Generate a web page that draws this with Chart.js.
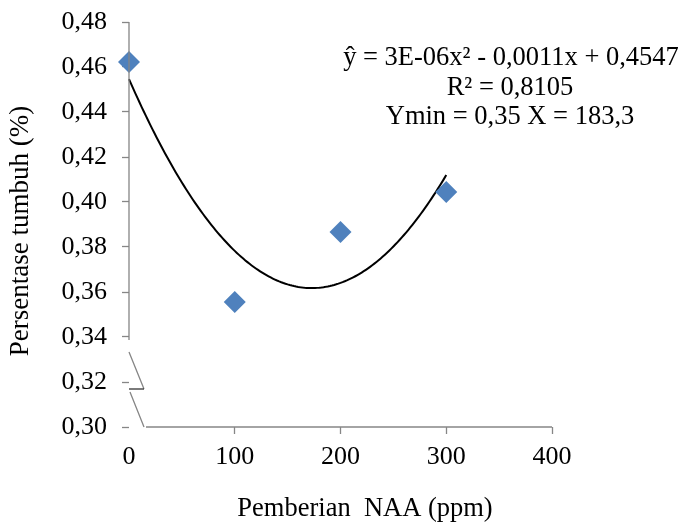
<!DOCTYPE html>
<html>
<head>
<meta charset="utf-8">
<script src="https://cdn.jsdelivr.net/npm/chart.js@4/dist/chart.umd.min.js"></script>
<style>
  html, body { margin: 0; padding: 0; background: #fff; }
  #wrap { width: 684px; height: 522px; }
</style>
</head>
<body>
<div id="wrap"><canvas id="c" width="684" height="522"></canvas></div>
<script>
// NAA dose (ppm) and observed growth percentage
const doses = [0, 100, 200, 300];
const growth = [0.4622, 0.3556, 0.3867, 0.4044];

// Axis tick values
const yTicks = [0.30, 0.32, 0.34, 0.36, 0.38, 0.40, 0.42, 0.44, 0.46, 0.48];
const xTicks = [0, 100, 200, 300, 400];

// Trendline annotation text
const eqLines = [
  'ŷ = 3E-06x² - 0,0011x + 0,4547',
  'R² = 0,8105',
  'Ymin = 0,35 X = 183,3'
];
const xTitle = 'Pemberian  NAA (ppm)';
const yTitle = 'Persentase tumbuh (%)';

// Least-squares quadratic fit of growth against dose
function quadFit(xs, ys) {
  const n = xs.length;
  let s = [0, 0, 0, 0, 0], t = [0, 0, 0];
  for (let i = 0; i < n; i++) {
    let p = 1;
    for (let k = 0; k <= 4; k++) { s[k] += p; if (k <= 2) t[k] += p * ys[i]; p *= xs[i]; }
  }
  const M = [[s[0], s[1], s[2], t[0]], [s[1], s[2], s[3], t[1]], [s[2], s[3], s[4], t[2]]];
  for (let c = 0; c < 3; c++) {
    for (let r = c + 1; r < 3; r++) {
      const f = M[r][c] / M[c][c];
      for (let k = c; k < 4; k++) M[r][k] -= f * M[c][k];
    }
  }
  const coef = [0, 0, 0];
  for (let r = 2; r >= 0; r--) {
    let v = M[r][3];
    for (let k = r + 1; k < 3; k++) v -= M[r][k] * coef[k];
    coef[r] = v / M[r][r];
  }
  return coef; // a + b x + c x^2
}
const fit = quadFit(doses, growth);
const trend = [];
for (let x = doses[0]; x <= doses[doses.length - 1]; x += 2) {
  trend.push({ x: x, y: fit[0] + fit[1] * x + fit[2] * x * x });
}

const AXIS = '#868686';
const FONT = '"Liberation Serif", "Times New Roman", serif';
const fmt = v => v.toFixed(2).replace('.', ',');

// Axis lines with a break symbol between 0,30 and 0,34
const brokenAxes = {
  id: 'brokenAxes',
  afterDatasetsDraw(chart) {
    const { ctx, scales: { x, y } } = chart;
    const x0 = x.getPixelForValue(0);
    const yTop = y.getPixelForValue(0.48);
    const y34 = y.getPixelForValue(0.34);
    const y32 = y.getPixelForValue(0.32);
    const y30 = y.getPixelForValue(0.30);
    const xEnd = x.getPixelForValue(400);
    ctx.save();
    ctx.lineWidth = 1.3;
    ctx.strokeStyle = AXIS;
    ctx.beginPath();
    ctx.moveTo(x0, yTop); ctx.lineTo(x0, y34 + 3);
    ctx.moveTo(x0, y34 + 15); ctx.lineTo(x0 + 15, y32 + 7);
    ctx.moveTo(x0 + 1, y32 + 10); ctx.lineTo(x0 + 15, y30);
    ctx.moveTo(x0 + 17, y30); ctx.lineTo(xEnd, y30);
    ctx.stroke();
    ctx.strokeStyle = '#333';
    ctx.beginPath();
    ctx.moveTo(x0, y32 + 7); ctx.lineTo(x0 + 15, y32 + 7);
    ctx.stroke();
    ctx.restore();
  },
  afterDraw(chart) {
    const { ctx } = chart;
    ctx.save();
    ctx.fillStyle = '#000';
    ctx.font = '26.5px ' + FONT;
    ctx.textAlign = 'center';
    ctx.textBaseline = 'alphabetic';
    ctx.fillText(eqLines[0], 511, 65);
    ctx.fillText(eqLines[1], 510, 95);
    ctx.fillText(eqLines[2], 510, 124);
    ctx.textBaseline = 'middle';
    ctx.fillText(xTitle, 365, 509);
    ctx.font = '27px ' + FONT;
    ctx.translate(21, 231);
    ctx.rotate(-Math.PI / 2);
    ctx.fillText(yTitle, 0, 0);
    ctx.restore();
  }
};

new Chart(document.getElementById('c'), {
  type: 'scatter',
  data: {
    datasets: [
      {
        label: 'Persentase tumbuh',
        data: doses.map((d, i) => ({ x: d, y: growth[i] })),
        pointStyle: 'rectRot',
        pointRadius: 11,
        pointHoverRadius: 11,
        backgroundColor: '#4F81BD',
        borderColor: '#4F81BD',
        borderWidth: 0,
        clip: false,
        order: 0
      },
      {
        label: 'Trendline',
        type: 'line',
        data: trend,
        borderColor: '#000',
        borderWidth: 2,
        pointRadius: 0,
        fill: false,
        tension: 0,
        clip: false,
        order: 1
      }
    ]
  },
  options: {
    responsive: false,
    animation: false,
    events: [],
    layout: { padding: { left: 0, top: 22, right: 132, bottom: 0 } },
    plugins: { legend: { display: false }, tooltip: { enabled: false } },
    scales: {
      x: {
        type: 'linear',
        min: 0, max: 400,
        afterBuildTicks: s => { s.ticks = xTicks.map(v => ({ value: v })); },
        afterFit: s => { s.height = 95; s.paddingLeft = 0; s.paddingRight = 0; },
        border: { display: false },
        grid: {
          drawOnChartArea: false,
          drawTicks: true,
          tickLength: 7,
          tickWidth: 1.3,
          tickColor: c => (c.tick && c.tick.value === 0) ? 'rgba(0,0,0,0)' : AXIS
        },
        ticks: {
          color: '#000',
          padding: 8,
          font: { family: FONT, size: 26 },
          maxRotation: 0
        }
      },
      y: {
        type: 'linear',
        min: 0.30, max: 0.48,
        afterBuildTicks: s => { s.ticks = yTicks.map(v => ({ value: v })); },
        afterFit: s => { s.width = 129; s.paddingTop = 0; s.paddingBottom = 0; },
        border: { display: false },
        grid: {
          drawOnChartArea: false,
          drawTicks: true,
          tickLength: 7,
          tickWidth: 1.3,
          tickColor: AXIS
        },
        ticks: {
          color: '#000',
          padding: 15,
          font: { family: FONT, size: 26 },
          callback: v => fmt(v)
        }
      }
    }
  },
  plugins: [brokenAxes]
});
</script>
</body>
</html>
